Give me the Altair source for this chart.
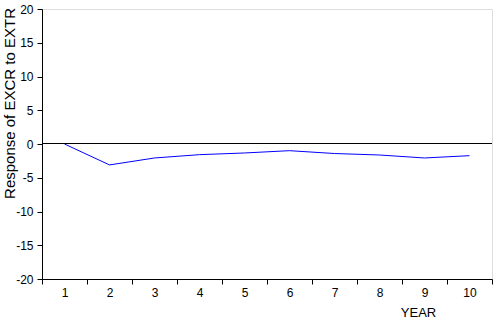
import altair as alt
import pandas as pd

years = [str(i) for i in range(1, 11)]
response = [0.0, -3.1, -2.07, -1.58, -1.33, -0.99, -1.41, -1.63, -2.07, -1.73]
y_ticks = [-20, -15, -10, -5, 0, 5, 10, 15, 20]

df = pd.DataFrame({"YEAR": years, "resp": response})
zero = pd.DataFrame({"resp": [0]})

FONT = "Liberation Sans"

x_enc = alt.X(
    "YEAR:O",
    sort=years,
    scale=alt.Scale(paddingInner=0, paddingOuter=0),
    axis=alt.Axis(
        title="YEAR", labelAngle=0, tickBand="extent", tickSize=5,
        labelPadding=3, labelFontSize=12, labelFont=FONT, labelColor="black",
        domainColor="black", tickColor="black",
        titleFont=FONT, titleFontSize=13, titleFontWeight="normal", titleColor="black",
        titleX=376, titleY=33, titleBaseline="middle", titleAlign="center",
    ),
)

y_axis = alt.Axis(
    title="Response of EXCR to EXTR", values=y_ticks,
    labelExpr="replace(datum.label, '\u2212', '-')",
    labelOverlap=False,
    grid=False, tickSize=5, labelPadding=4, labelFontSize=12, labelFont=FONT,
    labelColor="black", domainColor="black", tickColor="black",
    titleFont=FONT, titleFontSize=15, titleFontWeight="normal", titleColor="black",
    titleX=-33, titleY=94, titleBaseline="middle", titleAlign="center", titleAngle=-90,
)
y_scale = alt.Scale(domain=[-20, 20], nice=False)

line = alt.Chart(df).mark_line(color="#0000FF", strokeWidth=1).encode(
    x=x_enc, y=alt.Y("resp:Q", scale=y_scale, axis=y_axis)
)

rule = alt.Chart(zero).mark_rule(color="black", strokeWidth=1, yOffset=-0.5).encode(
    y=alt.Y("resp:Q", scale=y_scale, axis=y_axis)
)

chart = (
    alt.layer(line, rule)
    .properties(
        width=450, height=270,
        autosize=alt.AutoSizeParams(type="none"),
        padding={"left": 42, "top": 9, "right": 3, "bottom": 40},
    )
    .configure_view(stroke="black", strokeWidth=1)
    .configure_axis(grid=False)
    .configure(background="white")
)

chart.save("out.html", embed_options={"renderer": "svg", "actions": False})
